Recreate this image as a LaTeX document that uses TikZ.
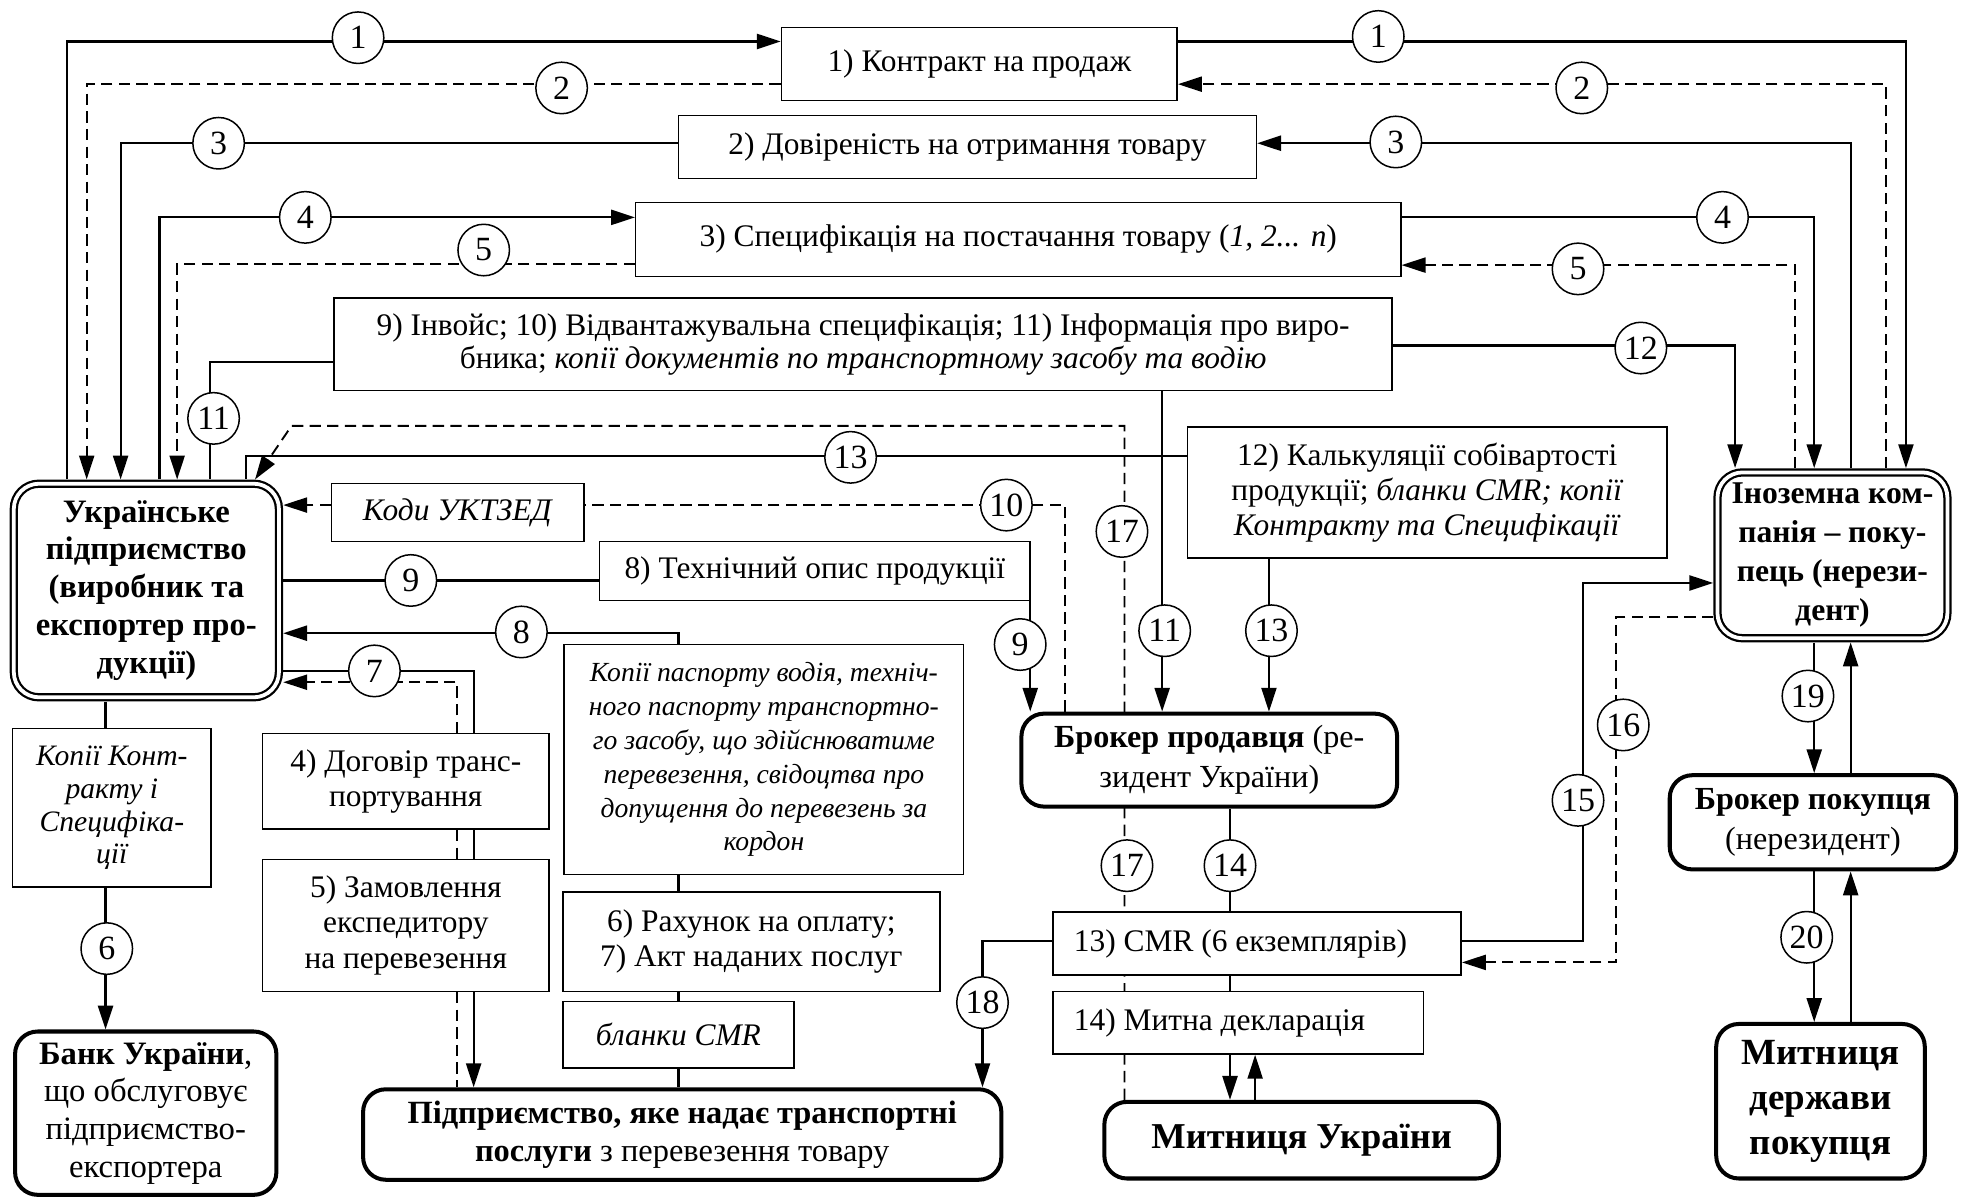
\documentclass[tikz,border=0pt]{standalone}
\usepackage{fontspec}
\setmainfont{Liberation Serif}
\usetikzlibrary{arrows.meta}
\pgfdeclarelayer{bg}
\pgfsetlayers{bg,main}
\begin{document}
\begin{tikzpicture}[x=0.5pt,y=-0.5pt,
  txt/.style={font=\fontsize{12.5}{14}\selectfont},
  corners/.style n args={4}{at={({(#1+#3)/2},{(#2+#4)/2})}, minimum width={(#3-#1)*0.5pt}, minimum height={(#4-#2)*0.5pt}},
  box/.style={draw, line width=0.6pt, fill=white, inner sep=0pt, align=center, txt},
  rbox/.style={draw, line width=1.6pt, rounded corners=9pt, fill=white, inner sep=0pt, align=center},
  dbox/.style={draw, line width=0.9pt, double, double distance=1.5pt, rounded corners=10pt, fill=white, inner sep=0pt, outer sep=1.7pt, align=center},
  num/.style={draw, circle, line width=0.6pt, fill=white, minimum size=20.5pt, inner sep=0pt, font=\fontsize{13.5}{14}\selectfont},
  con/.style={line width=0.85pt},
  arrtip/.style={-{Triangle[length=9.5pt,width=6pt]}},
  arr/.style={con, arrtip},
  dsh/.style={line width=0.75pt, dash pattern=on 4.5pt off 2.5pt},
  darr/.style={dsh, arrtip},
]
\useasboundingbox (0,0) rectangle (1568,954);

% ---------- boxes ----------
\node[box, corners={622}{22}{937}{80}] (c1) {1) Контракт на продаж};
\node[box, corners={540}{92}{1000}{142}] (c2) {2) Довіреність на отримання товару};
\node[box, corners={506}{161}{1115}{220}] (c3) {3) Специфікація на постачання товару (\textit{1, 2... n})};
\node[box, corners={266}{237}{1108}{311}, font=\fontsize{12.5}{13.3}\selectfont] (inv) {9) Інвойс; 10) Відвантажувальна специфікація; 11) Інформація про виро-\\бника; \textit{копії документів по транспортному засобу та водію}};
\node[box, corners={945}{340}{1327}{444}] (kal) {12) Калькуляції собівартості\\продукції; \textit{бланки CMR; копії}\\\textit{Контракту та Специфікації}};
\node[box, corners={264}{385}{465}{431}] (kod) {\textit{Коди УКТЗЕД}};
\node[box, corners={477}{431}{820}{478}] (tech) {8) Технічний опис продукції};
\node[box, corners={10}{580}{168}{706}, font=\fontsize{11.8}{13}\selectfont\itshape] (kk) {Копії Конт-\\ракту і\\Специфіка-\\ції};
\node[box, corners={449}{513}{767}{696}, font=\fontsize{11}{13.5}\selectfont\itshape] (pas) {Копії паспорту водія, техніч-\\ного паспорту транспортно-\\го засобу, що здійснюватиме\\перевезення, свідоцтва про\\допущення до перевезень за\\кордон};
\node[box, corners={209}{584}{437}{660}] (dog) {4) Договір транс-\\портування};
\node[box, corners={209}{684}{437}{789}] (zam) {5) Замовлення\\експедитору\\на перевезення};
\node[box, corners={448}{710}{748}{789}] (rah) {6) Рахунок на оплату;\\7) Акт наданих послуг};
\node[box, corners={448}{797}{632}{850}] (bl) {\textit{бланки CMR}};
\node[box, corners={838}{726}{1163}{776}] (cmr) {};
\node[txt, anchor=west, inner sep=0pt, xshift=8.5pt] (cmrt) at (cmr.west) {13) CMR (6 екземплярів)};
\node[box, corners={838}{789}{1133}{839}] (dec) {};
\node[txt, anchor=west, inner sep=0pt, xshift=8.5pt] (dect) at (dec.west) {14) Митна декларація};

\node[dbox, corners={11}{385}{222}{555}, font=\fontsize{13}{15.1}\selectfont\bfseries] (ua) {Українське\\підприємство\\(виробник та\\експортер про-\\дукції)};
\node[dbox, corners={1367}{376}{1550}{508}, font=\fontsize{12.6}{15.5}\selectfont\bfseries] (fc) {Іноземна ком-\\панія – поку-\\пець (нерези-\\дент)};
\node[rbox, corners={813}{568}{1112}{642}, font=\fontsize{12.8}{16}\selectfont] (bs) {\textbf{Брокер продавця} (ре-\\зидент України)};
\node[rbox, corners={1329}{617}{1557}{692}, font=\fontsize{12.8}{16}\selectfont] (bb) {\textbf{Брокер покупця}\\(нерезидент)};
\node[rbox, corners={12}{821}{220}{951}, font=\fontsize{13}{15}\selectfont] (bank) {\textbf{Банк України},\\що обслуговує\\підприємство-\\експортера};
\node[rbox, corners={289}{867}{797}{939}, font=\fontsize{12.9}{15.3}\selectfont] (tr) {\textbf{Підприємство, яке надає транспортні}\\\textbf{послуги} з перевезення товару};
\node[rbox, corners={879}{877}{1193}{938}, font=\fontsize{14.5}{17}\selectfont\bfseries] (mu) {Митниця України};
\node[rbox, corners={1366}{815}{1532}{938}, font=\fontsize{14.7}{17.9}\selectfont\bfseries] (md) {Митниця\\держави\\покупця};

% ---------- connectors ----------
\begin{pgfonlayer}{bg}
\draw[arr] (ua.north -| 53,0) |- (c1.west |- 0,33);
\draw[arr] (c1.east |- 0,33) -| (fc.north -| 1517,0);
\draw[darr] (c1.west |- 0,67) -| (ua.north -| 69,0);
\draw[darr] (fc.north -| 1501,0) |- (c1.east |- 0,67);
\draw[arr] (c2.west |- 0,114) -| (ua.north -| 96,0);
\draw[arr] (fc.north -| 1473,0) |- (c2.east |- 0,114);
\draw[arr] (ua.north -| 127,0) |- (c3.west |- 0,173);
\draw[arr] (c3.east |- 0,173) -| (fc.north -| 1444,0);
\draw[darr] (c3.west |- 0,210) -| (ua.north -| 141,0);
\draw[darr] (fc.north -| 1429,0) |- (c3.east |- 0,211);
\draw[con] (inv.west |- 0,288) -| (ua.north -| 167,0);
\draw[arr] (inv.east |- 0,275) -| (fc.north -| 1381,0);
\draw[arr] (inv.south -| 925,0) -- (bs.north -| 925,0);
\draw[con] (kal.west |- 0,363) -| (ua.north -| 196,0);
\draw[arr] (kal.south -| 1010,0) -- (bs.north -| 1010,0);
\draw[darr] (mu.north -| 895,0) -- (895,339) -- (232,339) -- (ua.north -| 203,0);
\draw[dsh] (bs.north -| 848,0) |- (kod.east |- 0,402);
\draw[darr] (kod.west |- 0,402) -- (ua.east |- 0,402);
\draw[con] (ua.east |- 0,462) -- (tech.west |- 0,462);
\draw[arr] (tech.south -| 820,0) -- (bs.north -| 820,0);
\draw[arr] (pas.north -| 540,0) |- (ua.east |- 0,504);
\draw[con] (ua.east |- 0,534) -| (dog.north -| 377,0);
\draw[darr] (dog.north -| 364,0) |- (ua.east |- 0,543);
\draw[con] (dog.south -| 377,0) -- (zam.north -| 377,0);
\draw[dsh] (dog.south -| 364,0) -- (zam.north -| 364,0);
\draw[arr] (zam.south -| 377,0) -- (tr.north -| 377,0);
\draw[dsh] (zam.south -| 364,0) -- (tr.north -| 364,0);
\draw[con] (ua.south -| 84,0) -- (kk.north -| 84,0);
\draw[arr] (kk.south -| 84,0) -- (bank.north -| 84,0);
\draw[con] (pas.south -| 540,0) -- (rah.north -| 540,0);
\draw[con] (rah.south -| 540,0) -- (bl.north -| 540,0);
\draw[con] (bl.south -| 540,0) -- (tr.north -| 540,0);
\draw[arr] (cmr.west |- 0,749) -| (tr.north -| 782,0);
\draw[con] (bs.south -| 979,0) -- (cmr.north -| 979,0);
\draw[con] (cmr.south -| 979,0) -- (dec.north -| 979,0);
\draw[arr] (dec.south -| 979,0) -- (mu.north -| 979,0);
\draw[arr] (mu.north -| 999,0) -- (dec.south -| 999,0);
\draw[arr] (cmr.east |- 0,749) -| (1260,464) -- (fc.west |- 0,464);
\draw[darr] (fc.west |- 0,491) -| (1286,766) -- (cmr.east |- 0,766);
\draw[arr] (fc.south -| 1444,0) -- (bb.north -| 1444,0);
\draw[arr] (bb.north -| 1473,0) -- (fc.south -| 1473,0);
\draw[arr] (bb.south -| 1444,0) -- (md.north -| 1444,0);
\draw[arr] (md.north -| 1473,0) -- (bb.south -| 1473,0);
\end{pgfonlayer}

% ---------- numbered circles ----------
\node[num] (n1a) at (285,30) {1};
\node[num] (n1b) at (1097,29) {1};
\node[num] (n2a) at (447,70) {2};
\node[num] (n2b) at (1259,70) {2};
\node[num] (n3a) at (174,114) {3};
\node[num] (n3b) at (1111,113) {3};
\node[num] (n4a) at (243,173) {4};
\node[num] (n4b) at (1371,173) {4};
\node[num] (n5a) at (385,199) {5};
\node[num] (n5b) at (1256,214) {5};
\node[num] (n11a) at (170,333) {11};
\node[num] (n12) at (1306,277) {12};
\node[num] (n13a) at (677,364) {13};
\node[num] (n17a) at (893,423) {17};
\node[num] (n10) at (801,402) {10};
\node[num] (n9a) at (327,462) {9};
\node[num] (n9b) at (812,513) {9};
\node[num] (n11b) at (927,502) {11};
\node[num] (n13b) at (1012,502) {13};
\node[num] (n8) at (415,503) {8};
\node[num] (n7) at (298,534) {7};
\node[num] (n6) at (85,755) {6};
\node[num] (n17b) at (897,689) {17};
\node[num] (n14) at (979,689) {14};
\node[num] (n18) at (782,798) {18};
\node[num] (n15) at (1256,637) {15};
\node[num] (n16) at (1292,577) {16};
\node[num] (n19) at (1439,554) {19};
\node[num] (n20) at (1438,746) {20};
\end{tikzpicture}
\end{document}
